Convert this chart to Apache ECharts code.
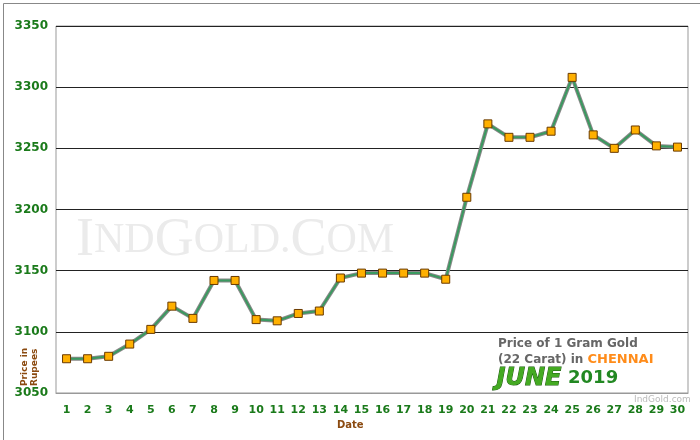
<!DOCTYPE html>
<html lang="en">
<head>
    <meta charset="UTF-8">
    <title>Gold Chennai June 2019</title>
    <script src="https://cdn.jsdelivr.net/npm/echarts@6/dist/echarts.min.js"></script>
    <style>
        body { margin: 0; background: #fff; }
        #main { width: 700px; height: 440px; }
    </style>
</head>
<body>
<div id="main"></div>
<script>
    var dates = ['1','2','3','4','5','6','7','8','9','10','11','12','13','14','15','16','17','18','19','20','21','22','23','24','25','26','27','28','29','30'];
    var prices = [3078,3078,3080,3090,3102,3121,3111,3142,3142,3110,3109,3115,3117,3144,3148,3148,3148,3148,3143,3210,3270,3259,3259,3264,3308,3261,3250,3265,3252,3251];
    var yTicks = [3050, 3350, 50];

    var myChart = echarts.init(document.getElementById('main'));
    var wm = { font: '54px "Liberation Serif"', fill: '#ebebeb' };
    var wmS = { font: '42px "Liberation Serif"', fill: '#ebebeb' };
    myChart.setOption({
        backgroundColor: '#fff',
        animation: false,
        grid: { left: 56, right: 12, top: 26, bottom: 47, show: true, borderColor: '#999', backgroundColor: '#fff' },
        graphic: [
            { type: 'rect', left: 1, top: 1, shape: { width: 697, height: 437 }, style: { fill: 'none', stroke: '#888' }, z: -1 },
            { type: 'text', x: 76, y: 214, z: 0, style: { rich: { a: wm, b: wmS }, text: '{a|I}{b|ND}{a|G}{b|OLD}{b|.}{a|C}{b|OM}', letterSpacing: 4 } },
            { type: 'text', left: 498, top: 338, z: 10, style: { text: 'Price of 1 Gram Gold', font: 'bold 12px "DejaVu Sans"', fill: '#666' } },
            { type: 'text', left: 498, top: 353, z: 10, style: { rich: { a: { font: 'bold 12px "DejaVu Sans"', fill: '#666' }, b: { font: 'bold 13px "DejaVu Sans"', fill: '#ff8c1a' } }, text: '{a|(22 Carat) in }{b|CHENNAI}' } },
            { type: 'text', left: 496, top: 366, z: 10, style: { rich: { a: { font: 'italic bold 24px "DejaVu Sans"', fill: '#44aa22', stroke: '#1d5a10', lineWidth: 1 }, b: { font: 'bold 18px "DejaVu Sans"', fill: '#228822' } }, text: '{a|JUNE}  {b|2019}' } },
            { type: 'text', left: 634, top: 395, z: 10, style: { text: 'IndGold.com', font: '9px "DejaVu Sans"', fill: '#bbb' } },
            { type: 'text', left: 337, top: 420, style: { text: 'Date', font: 'bold 10px "DejaVu Sans"', fill: '#8b4a10' } },
            { type: 'text', x: 20, y: 386, rotation: Math.PI / 2, z: 10, style: { text: 'Price in\nRupees', font: 'bold 9px "DejaVu Sans"', fill: '#8b4a10', lineHeight: 10, align: 'left', verticalAlign: 'top' } }
        ],
        xAxis: {
            type: 'category', data: dates, boundaryGap: true,
            axisLine: { lineStyle: { color: '#999' } },
            axisTick: { show: false },
            axisLabel: { interval: 0, color: '#1a7a1a', fontWeight: 'bold', fontSize: 11, fontFamily: 'DejaVu Sans', margin: 12 },
            splitLine: { show: false }
        },
        yAxis: {
            type: 'value', min: yTicks[0], max: yTicks[1], interval: yTicks[2],
            axisLine: { show: false }, axisTick: { show: false },
            axisLabel: { formatter: function (v) { return String(v); }, color: '#1a7a1a', fontWeight: 'bold', fontSize: 12, fontFamily: 'DejaVu Sans', margin: 8 },
            splitLine: { lineStyle: { color: '#222', width: 1 } }
        },
        series: [
            { type: 'line', data: prices, symbol: 'none', silent: true, z: 2, lineStyle: { color: '#888', width: 4 } },
            {
                type: 'line', data: prices, z: 3,
                symbol: 'rect', symbolSize: 8,
                lineStyle: { color: '#3a9a60', width: 2 },
                itemStyle: { color: '#ffb000', borderColor: '#6a3a00', borderWidth: 1 }
            }
        ]
    });
</script>
</body>
</html>
